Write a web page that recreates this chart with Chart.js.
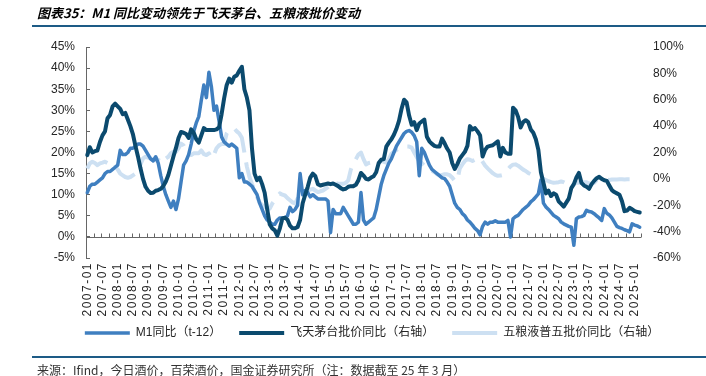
<!DOCTYPE html>
<html>
<head>
<meta charset="utf-8">
<script src="https://cdn.jsdelivr.net/npm/chart.js@4.4.1/dist/chart.umd.min.js"></script>
<style>
  body { margin: 0; background: #fff; }
  #wrap { position: relative; width: 706px; height: 376px; overflow: hidden; background: #fff; }
  #chart { position: absolute; left: 0; top: 0; }
  .title { position: absolute; left: 37px; top: 3px; font: italic 700 13px "Noto Sans CJK SC", sans-serif; color: #000; line-height: 20px; white-space: nowrap; }
  .rule { position: absolute; left: 32px; right: 0; height: 2px; background: #1d5b86; }
  .source { position: absolute; left: 37px; top: 362px; font: 12px "Noto Sans CJK SC", sans-serif; color: #333; line-height: 16px; white-space: nowrap; }
</style>
</head>
<body>
<div id="wrap">
  <canvas id="chart" width="706" height="376"></canvas>
  <div class="title">图表35：M1 同比变动领先于飞天茅台、五粮液批价变动</div>
  <div class="rule" style="top:25px"></div>
  <div class="rule" style="top:356px"></div>
  <div class="source">来源：Ifind，今日酒价，百荣酒价，国金证券研究所（注：数据截至 25 年 3 月）</div>
</div>
<script>
// monthly categories 2007-01 .. 2025-03
const months = [];
for (let y = 2007; y <= 2025; y++) {
    for (let m = 1; m <= 12; m++) {
        if (y === 2025 && m > 3) break;
        months.push(y + '-' + String(m).padStart(2, '0'));
    }
}

// M1 同比 (t-12), left axis, %
const m1Yoy = [
    10.5, 12, 12.5, 12.5, 13, 13.5, 14, 15, 15.5, 15.5,
    16, 16.5, 17, 20.5, 19.5, 19.5, 20, 21, 21, 21.5,
    22, 22, 21.5, 20.5, 19.5, 18.5, 18, 19, 17.5, 14.5,
    12, 10, 8.5, 7, 8.5, 6.5, 9, 13, 17, 18,
    19.5, 22, 25, 27, 28.5, 32.4, 36, 33, 39, 35.5,
    30, 31, 27.5, 23.7, 22.5, 22, 21.5, 22, 21.5, 21,
    14, 15, 13, 13, 12.5, 12, 11, 10, 8, 6.5,
    5, 4, 3.5, 3, 3, 4, 4.5, 4.5, 4.5, 5,
    7, 6, 6.5, 7.5, 15, 10, 11, 10.5, 9.5, 10,
    9.5, 9, 9, 9, 9, 8.5, 1, 6.5, 5.5, 5.5,
    5.5, 7, 6, 5, 4, 3, 3, 3.5, 10.5, 4,
    3, 3.5, 4, 4.5, 6.5, 9.5, 12.5, 14.5, 16, 17.5,
    18.5, 20, 21.5, 22.5, 23.5, 24.5, 25, 25.2, 24.8, 24,
    22.5, 14.5, 21, 20, 18.5, 17, 16, 15.5, 15, 14.5,
    14, 13.8, 13, 12, 10, 8, 7, 6.5, 5.5, 5,
    4, 3.5, 2.8, 2, 1.5, 0.5, 2.5, 3.5, 3, 3.5,
    3.5, 3.8, 3.5, 3.5, 3.5, 3.5, 3.9, 0, 4.3, 4.8,
    5.1, 5.8, 6.5, 7, 7.5, 8.3, 8.8, 9.5, 10.2, 13.4,
    8, 7.1, 6.5, 5.8, 5.1, 4.7, 4.3, 3.5, 3.1, 2.8,
    2.5, 2.3, -2, 4.3, 4.7, 4.8, 5.1, 6.3, 6, 5.9,
    5.5, 5, 4.5, 3.9, 6.7, 5.6, 5.2, 4.5, 3.5, 2.5,
    2.2, 2, 1.7, 1.5, 1.2, 3.1, 2.8, 2.6, 2.3
];

// 飞天茅台批价同比, right axis, %
const moutaiYoy = [
    18, 24, 20, 21, 21.5, 28, 33, 36, 46, 48.5,
    55, 57, 55, 53, 49, 50, 45, 40, 34, 25,
    17, 8, 0, -6, -9, -10.7, -10.5, -9, -8.5, -7.5,
    -5.5, -2, 3, 10, 17, 23.5, 31, 35.5, 35, 34,
    31, 37.5, 35, 30, 27.5, 33, 38.5, 37, 37, 37,
    37, 37.5, 39, 49, 61, 71, 76, 73, 77.5, 78.5,
    82, 85, 68, 61.5, 52, 23, 4, -1, 1, -4,
    -10.5, -23, -34.5, -37.5, -39, -43, -37.5, -30, -29.5, -31,
    -35.5, -37.5, -37.5, -36.5, -31, -18.5, -12, -6, 1, 4,
    2, -4, -5, -4.5, -4, -3.5, -4, -3.5, -4.5, -5.5,
    -7, -8, -7.5, -6, -5.5, -5.5, -4.5, -1, 4.5, 2.5,
    0, -0.5, 1, 2, 5, 12, 14.5, 15, 24.5, 27.5,
    30, 33.5, 38, 44, 53, 60, 58, 48, 41, 43,
    37, 42, 43.5, 45, 32, 28.5, 26.5, 25, 24.5, 24.5,
    30.5, 27, 23, 20, 12, 7.5, 11, 15.5, 18, 20.5,
    25, 40, 37.5, 38.5, 36, 33, 17, 22, 24.5, 25,
    25.5, 27, 28.5, 17, 23.5, 20, 19, 19, 54, 52,
    47, 39, 43, 44.5, 43, 37.5, 35, 30, 22, 5,
    -3, -11, -9, -13, -11, -12, -17, -19, -21, -18,
    -15, -7, -4, 1, 4.5, -3, -5, -6, -7.5, -4,
    -1.5, 0.5, 1.5, 0, -1, -1.5, -5, -8.5, -10, -11,
    -12, -17, -24.5, -24, -22, -23, -24.5, -25, -25.5
];

// 五粮液普五批价同比, right axis, %
const wuliangyeYoy = [
    7.8, 11.7, 13, 12, 10.4, 11.7, 12.3, 13, 12, 10.4,
    7.8, 9.1, 7.2, 4, 2.7, 1.4, 0.8, 1.4, 2.7, 4,
    7.8, 11, 15.5, 16.8, 16.2, 15.5, 14.2, 14.2, 14.9, 18.1,
    17.4, 15.5, 16.8, 19.4, 20.6, 20.6, 23.2, 26.7, 25.4, 21.9,
    20.6, 18.1, 19.4, 19.4, 19.4, 21.6, 18.7, 18.1, 19.4, 15.5,
    18.4, 23.2, 25.4, 26.4, 26.4, 34.4, 37, 38.2, 38.2, 36,
    34.4, 31.2, 20, 9.1, 1.4, -4, -8.8, -13.6, -17.8, -20,
    -21.3, -21.9, -22.6, -18.7, -16.2, -13.6, -11, -12, -12.6, -14.6,
    -16.2, -17.8, -18.7, -14.9, -12.6, -10.1, -9.4, -8.8, -8.2, -7.5,
    -8.8, -10.1, -9.4, -8.8, -7.5, -6.2, -4.3, -2.4, -3, -3.7,
    -3.7, -3.7, -3, -1.1, 7, 12, 15, 18.5, 20, 15,
    11, 12, 12.4, 12, 11, 12, 13.6, 13, 12.4, 15,
    19, 20.5, 22, 23, 23.7, 24, 24.5, 24.5, 23.7, 20,
    16.5, 13.6, 12, 10, 8.6, 7.3, 6.1, 5, 3.5, 2.5,
    3, 3.5, 3.5, 2.8, 1, -1.5, -1.5, 8, 11, 13.6,
    14.9, 14.5, 13.6, 14.5, 15, 16, 13, 10, 8, 6.1,
    4.3, 3, 2.3, 2.5, 3, 5, 7.3, 9.5, 10.8, 11,
    10, 8.5, 7, 6, 4.5, 3.5, 2.3, 1.8, 1, 0.5,
    0, -1, -1.8, -2.5, -3, -2.8, -2.5, -2, -2.5, -3.5,
    -4, -4.3, -3.5, -3, -3, -2.8, -2.5, -2.5, -3.5, -4,
    -3, -1, -0.8, -0.5, -0.5, -0.5, -0.8, -0.5, -0.5, -0.5,
    -0.3, -0.3, -0.5, -0.3, -0.3, null, null, null, null
];

const FONT = '"Liberation Sans", Arial, "Noto Sans CJK SC", sans-serif';
const TEXT = '#262626';
const AXIS = '#666';

// horizontal axis line drawn at 0% of the left axis, with a tick every 3 months
const zeroAxis = {
    id: 'zeroAxis',
    beforeDatasetsDraw(chart) {
        const { ctx, chartArea, scales: { x, y } } = chart;
        const y0 = Math.round(y.getPixelForValue(0)) + 0.5;
        const step = x.getPixelForValue(1) - x.getPixelForValue(0);
        ctx.save();
        ctx.strokeStyle = AXIS;
        ctx.lineWidth = 1;
        ctx.beginPath();
        ctx.moveTo(chartArea.left, y0);
        ctx.lineTo(chartArea.right, y0);
        for (let k = 3; k <= months.length; k += 3) {
            const px = Math.round(x.getPixelForValue(k) - step / 2) + 0.5;
            ctx.moveTo(px, y0);
            ctx.lineTo(px, y0 - 4);
        }
        ctx.stroke();
        ctx.restore();
    }
};

// date labels get a bit of letter spacing; legend sits a little higher than its box
const tweaks = {
    id: 'tweaks',
    afterLayout(chart) {
        chart.legend.top -= 9;
        chart.legend.bottom -= 9;
    },
    beforeDraw(chart) {
        const sc = chart.scales.x;
        if (sc._spaced) return;
        const orig = sc.drawLabels;
        sc.drawLabels = function (area) {
            this.ctx.save();
            this.ctx.letterSpacing = '1.5px';
            orig.call(this, area);
            this.ctx.restore();
        };
        sc._spaced = true;
    }
};

new Chart(document.getElementById('chart'), {
    type: 'line',
    data: {
        labels: months,
        datasets: [
            {
                label: 'M1同比（t-12）',
                data: m1Yoy,
                yAxisID: 'y',
                borderColor: '#3f7fc0',
                borderWidth: 3.5,
                order: 1
            },
            {
                label: '飞天茅台批价同比（右轴）',
                data: moutaiYoy,
                yAxisID: 'y1',
                borderColor: '#0b4a6e',
                borderWidth: 4,
                order: 0
            },
            {
                label: '五粮液普五批价同比（右轴）',
                data: wuliangyeYoy,
                yAxisID: 'y1',
                borderColor: '#cde0f2',
                borderWidth: 4,
                borderDash: [26, 10],
                borderCapStyle: 'butt',
                order: 2
            }
        ]
    },
    options: {
        responsive: false,
        animation: false,
        devicePixelRatio: 1,
        layout: { padding: { top: 47, left: 38, right: 0, bottom: 18 } },
        elements: {
            point: { radius: 0 },
            line: { tension: 0, borderJoinStyle: 'round', borderCapStyle: 'round' }
        },
        plugins: {
            tooltip: { enabled: false },
            legend: {
                position: 'bottom',
                labels: {
                    sort: (a, b) => a.datasetIndex - b.datasetIndex,
                    usePointStyle: true,
                    pointStyle: 'line',
                    pointStyleWidth: 45,
                    boxHeight: 12,
                    padding: 18,
                    color: TEXT,
                    font: { size: 12, family: FONT }
                }
            }
        },
        scales: {
            x: {
                offset: true,
                border: { display: false },
                grid: { display: false, drawTicks: false },
                ticks: {
                    autoSkip: false,
                    maxRotation: 90,
                    minRotation: 90,
                    padding: 4,
                    color: TEXT,
                    font: { size: 12, family: FONT },
                    callback: (v, i) => (i % 6 === 0 ? months[i] : '')
                },
                afterFit: s => { s.height = 60; }
            },
            y: {
                position: 'left',
                min: -5,
                max: 45,
                border: { display: true, color: AXIS },
                grid: { drawOnChartArea: false, tickLength: -4, color: AXIS },
                ticks: {
                    stepSize: 5,
                    padding: 15,
                    color: TEXT,
                    font: { size: 12, family: FONT },
                    callback: v => v + '%'
                },
                afterFit: s => { s.width = 48; }
            },
            y1: {
                position: 'right',
                min: -60,
                max: 100,
                border: { display: false },
                grid: { display: false, drawTicks: false },
                ticks: {
                    stepSize: 20,
                    padding: 12,
                    color: TEXT,
                    font: { size: 12, family: FONT },
                    callback: v => v + '%'
                },
                afterFit: s => { s.width = 65; }
            }
        }
    },
    plugins: [zeroAxis, tweaks]
});
</script>
</body>
</html>
